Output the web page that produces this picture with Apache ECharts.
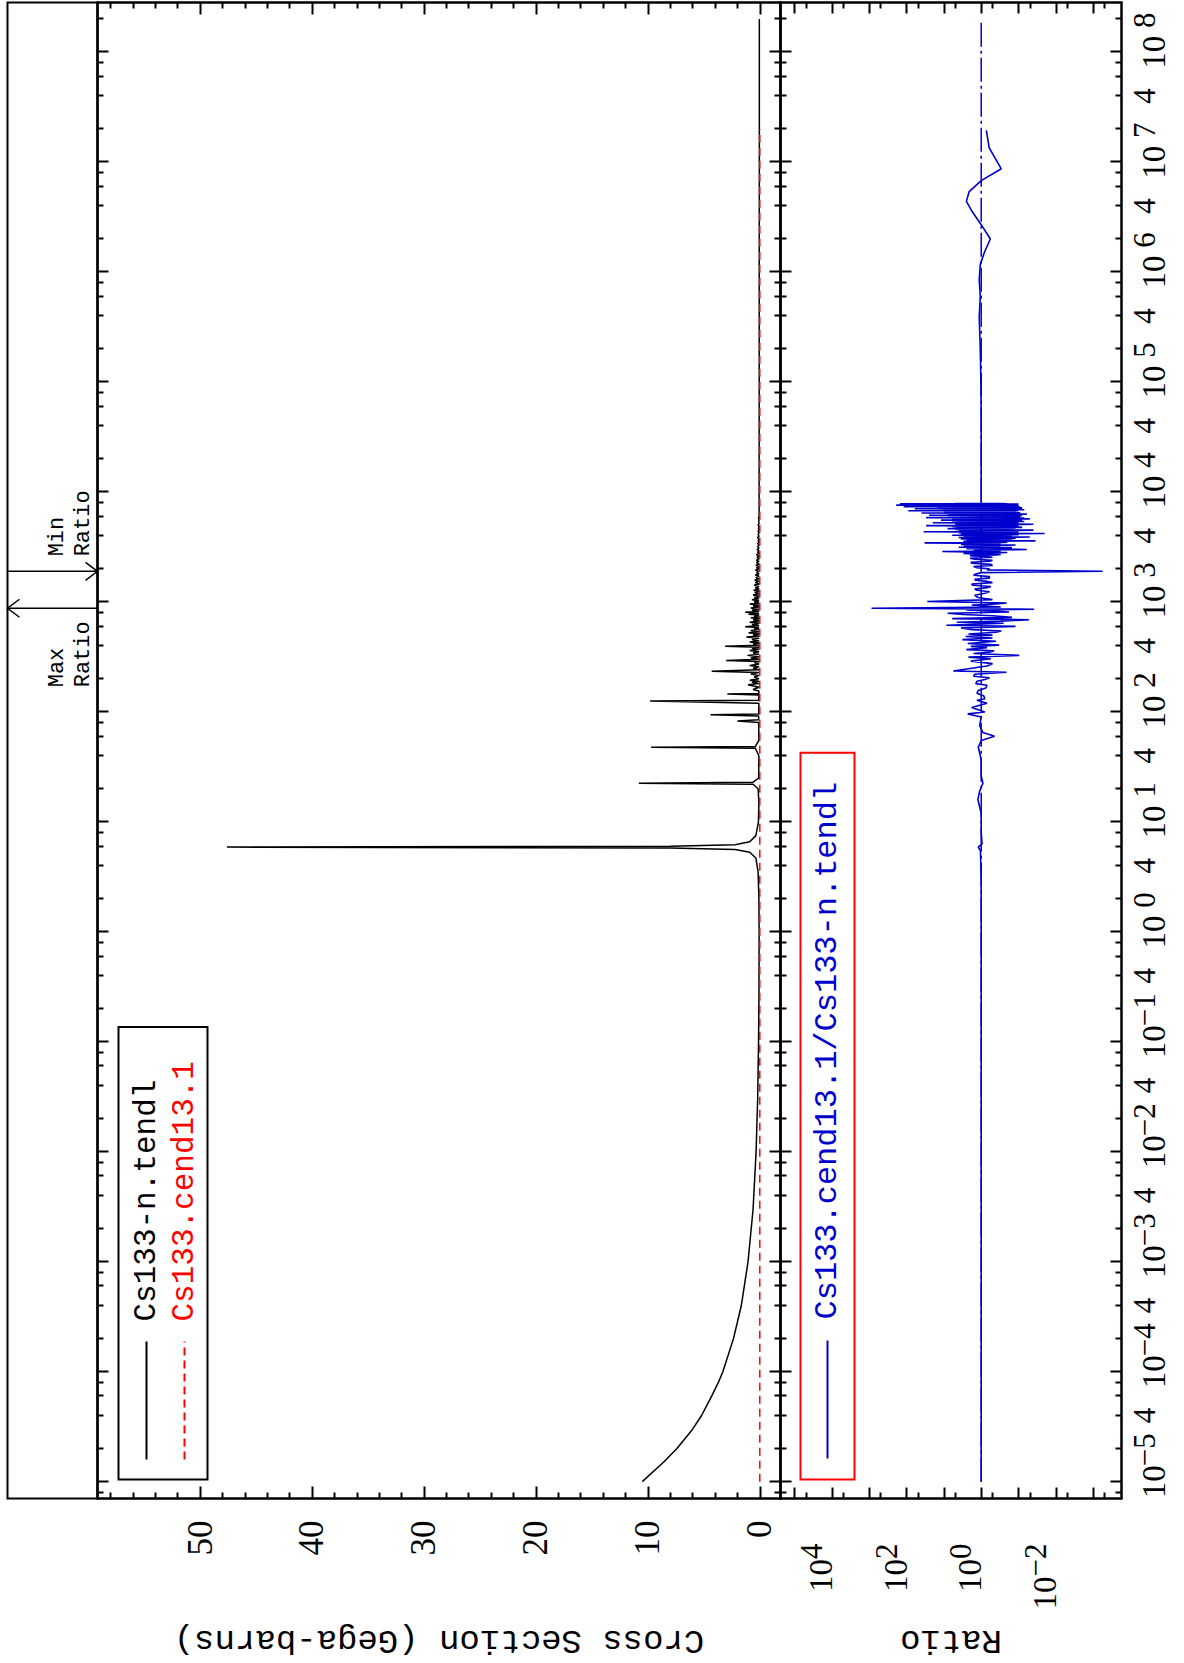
<!DOCTYPE html>
<html>
<head>
<meta charset="utf-8">
<script src="https://cdn.jsdelivr.net/npm/echarts@6/dist/echarts.min.js"></script>
<style>
html,body{margin:0;padding:0;background:#fff;width:1184px;height:1663px;overflow:hidden;position:relative}
#chart{position:absolute;left:-239.5px;top:239.5px;width:1663px;height:1184px;transform:rotate(-90deg);transform-origin:50% 50%;background:#fff}
</style>
</head>
<body>
<div id="chart"></div>
<script>
// ================= DATA =================
// Energy in eV, cross section in Gega-barns, ratio dimensionless.

// Cs133-n.tendl : thermal / 1-v part
const tendlThermalE  = [1e-5, 1.5e-5, 2e-5, 3e-5, 4e-5, 6e-5, 8e-5, 1e-4, 2e-4, 4e-4, 1e-3, 3e-3, 1e-2, 3e-2, 0.1, 0.3, 1, 2, 3.5];
const tendlThermalXS = [10.5, 8.6, 7.4, 6.0, 5.2, 4.3, 3.7, 3.3, 2.35, 1.65, 1.05, 0.6, 0.33, 0.19, 0.11, 0.07, 0.06, 0.08, 0.15];

// Cs133-n.tendl : large resolved resonances (5.9, 22.5, 47.7, 82.7, 94.2, 126, 145 eV)
const tendlResE  = [4.7, 5.3, 5.6, 5.8, 5.9, 6.0, 6.2, 6.6, 7.5, 10, 15, 20, 22.0, 22.5, 23.0, 25, 40, 46.8, 47.7, 48.6, 55, 80, 82.7, 85, 92, 94.2, 96, 120, 126, 128, 143, 145.4, 147.5];
const tendlResXS = [0.35, 0.9, 2.2, 8, 47.6, 8, 2.2, 0.9, 0.35, 0.12, 0.08, 0.15, 0.6, 10.8, 0.6, 0.1, 0.08, 0.4, 9.7, 0.4, 0.08, 0.1, 2.0, 0.1, 0.1, 4.4, 0.1, 0.08, 9.8, 0.1, 0.08, 2.9, 0.08];

// Cs133-n.tendl : small resonance peaks 150 eV - 6 keV
const tendlPeakE  = [160, 177, 186, 194, 208, 221, 234, 250, 265, 281, 293, 310, 327, 343, 363, 380, 395, 415, 433, 455, 480, 500, 525, 550, 575, 596, 625, 655, 690, 720, 745, 773, 805, 840, 880, 920, 960, 1000, 1050, 1100, 1160, 1220, 1280, 1350, 1420, 1500, 1580, 1670, 1760, 1850, 1950, 2050, 2160, 2280, 2400, 2550, 2700, 2850, 3000, 3200, 3400, 3600, 3850, 4100, 4400, 4700, 5000, 5400, 5800];
const tendlPeakXS = [0.6, 1.05, 0.7, 0.9, 0.5, 0.8, 4.3, 0.6, 0.9, 0.5, 3.0, 0.8, 1.1, 0.6, 0.9, 0.7, 3.1, 0.6, 0.9, 0.7, 1.2, 0.6, 1.0, 0.8, 0.5, 1.3, 0.7, 0.9, 0.6, 0.8, 0.5, 1.0, 1.3, 0.7, 0.8, 0.6, 0.9, 0.5, 0.7, 0.5, 0.6, 0.45, 0.55, 0.4, 0.5, 0.4, 0.45, 0.35, 0.4, 0.3, 0.4, 0.3, 0.35, 0.3, 0.3, 0.25, 0.3, 0.2, 0.25, 0.2, 0.2, 0.15, 0.2, 0.15, 0.15, 0.12, 0.15, 0.1, 0.12];
// Cs133-n.tendl : valleys between those peaks
const tendlGapE  = [155, 168, 181, 190, 200, 214, 228, 242, 258, 273, 287, 301, 318, 335, 353, 372, 388, 405, 424, 444, 467, 490, 512, 537, 562, 585, 610, 640, 672, 705, 732, 760, 790, 822, 860, 900, 940, 980, 1025, 1075, 1130, 1190, 1250, 1315, 1385, 1460, 1540, 1625, 1715, 1805, 1900, 2000, 2100, 2220, 2340, 2475, 2625, 2775, 2925, 3100, 3300, 3500, 3725, 3975, 4250, 4550, 4850, 5200, 5600, 6000];
const tendlGapXS = [0.08, 0.08, 0.08, 0.07, 0.07, 0.07, 0.07, 0.07, 0.07, 0.07, 0.07, 0.07, 0.07, 0.06, 0.06, 0.06, 0.06, 0.06, 0.06, 0.06, 0.06, 0.06, 0.06, 0.06, 0.06, 0.06, 0.06, 0.06, 0.06, 0.06, 0.06, 0.06, 0.06, 0.06, 0.06, 0.06, 0.06, 0.06, 0.06, 0.06, 0.06, 0.06, 0.06, 0.06, 0.06, 0.06, 0.06, 0.06, 0.06, 0.06, 0.06, 0.06, 0.06, 0.06, 0.06, 0.06, 0.06, 0.06, 0.06, 0.06, 0.06, 0.06, 0.06, 0.06, 0.06, 0.06, 0.06, 0.06, 0.06, 0.06];

// Cs133-n.tendl : fast region
const tendlFastE  = [6500, 1e4, 1e5, 1e6, 1e7, 2e8];
const tendlFastXS = [0.06, 0.06, 0.05, 0.05, 0.04, 0.04];

// Cs133.cend13.1 (essentially zero on this scale)
const cendE  = [1e-5, 1e-2, 1, 1e3, 1e5, 2e7];
const cendXS = [0.00002, 0.000002, 0.0000004, 0.0000001, 0.00000005, 0.00000003];

// Ratio Cs133.cend13.1 / Cs133-n.tendl
const ratioLowE = [1e-5, 1e-3, 0.1, 1, 3, 5.5, 5.9, 6.3, 8, 12, 16, 19, 22.5, 26, 37, 47.7, 55, 60, 65, 75, 90, 96, 100, 110, 120, 128, 132, 157, 175, 181, 205, 211, 230, 236, 275, 327, 360, 369, 405, 419, 500, 512, 545, 561, 600, 614, 690, 706, 750, 790, 811, 860, 877, 900, 980, 1010, 1100, 1200, 1277, 1350, 1420, 1500, 1575, 1650, 1750, 1850, 1901, 1960, 2050, 2150, 2250, 2350, 2450, 2550];
const ratioLowR = [1, 1, 1, 1, 1, 1.05, 1.2, 0.95, 1, 1, 1.23, 1.1, 0.9, 1, 1, 1.2, 1, 0.44, 0.9, 1.1, 1, 2.3, 0.8, 1.8, 0.7, 1.3, 0.8, 1.2, 0.7, 1.4, 0.6, 1.6, 0.21, 5.6, 0.5, 0.096, 0.45, 2.5, 0.33, 2.3, 0.5, 2.2, 0.29, 1.7, 0.12, 8.6, 0.052, 6, 0.5, 8, 0.18, 0.038, 870, 0.3, 0.21, 28, 1.2, 0.8, 1.3, 0.7, 1.7, 0.5, 1.4, 0.6, 1.6, 1, 0.00056, 0.7, 1.3, 0.5, 1.8, 0.6, 1.5, 0.5];
const ratioMidE = [140, 148, 165, 190, 197, 220, 250, 262, 290, 305, 315, 340, 350, 385, 395, 440, 455, 470, 485, 530, 580, 640, 655, 670, 725, 770, 830, 845, 940, 960, 1050, 1150, 1240, 1310, 1385, 1460, 1540, 1610, 1700, 1800, 2000, 2100, 2200, 2300, 2400, 2500, 2575];
const ratioMidR = [0.85, 1.3, 0.75, 1.3, 0.8, 1.5, 1.8, 0.7, 1.9, 0.55, 2.2, 1.6, 0.6, 0.7, 1.9, 0.4, 3.2, 0.5, 2.6, 0.4, 3.5, 0.25, 4.5, 0.3, 0.15, 3, 0.5, 2.5, 1.8, 0.4, 0.5, 1.5, 0.6, 1.5, 0.55, 1.8, 0.7, 1.5, 0.6, 1.4, 0.6, 1.6, 0.55, 1.9, 0.5, 2.0, 0.7];
const ratioBlobE = [2600, 2650, 2700, 2760, 2820, 2880, 2940, 3000, 3060, 3120, 3150, 3200, 3260, 3300, 3360, 3450, 3500, 3560, 3600, 3660, 3720, 3750, 3800, 3860, 3900, 3960, 4050, 4100, 4150, 4200, 4260, 4350, 4400, 4450, 4500, 4560, 4650, 4700, 4750, 4800, 4870, 4950, 5000, 5050, 5100, 5180, 5250, 5320, 5400, 5470, 5550, 5620, 5700, 5780, 5850, 5920, 6000, 6080, 6150, 6230, 6300, 6380, 6450, 6520, 6600, 6680, 6750, 6830, 6900, 6980, 7050, 7130, 7200, 7280, 7350, 7420, 7480, 7550, 7600, 7650, 7700, 7760, 7800, 7850, 7900];
const ratioBlobR = [0.6, 2.0, 0.3, 3, 0.2, 11, 0.3, 0.06, 2.5, 0.15, 4, 0.3, 3, 0.12, 2, 33, 0.2, 3, 0.035, 2.5, 0.15, 3.5, 0.2, 4, 0.05, 3, 6, 0.1, 3, 0.02, 4, 35, 0.15, 3, 0.04, 5, 8, 0.12, 4, 0.1, 6, 30, 0.1, 5, 0.04, 4, 20, 0.1, 0.07, 6, 12, 0.1, 0.05, 5, 30, 0.12, 0.09, 8, 25, 0.1, 0.06, 6, 40, 0.15, 0.12, 10, 90, 0.1, 0.07, 12, 60, 0.12, 0.08, 15, 120, 0.15, 0.10, 20, 190, 0.2, 0.15, 30, 150, 0.3, 1.0];
const ratioCoreE = [2625, 2675, 2730, 2790, 2850, 2910, 2970, 3030, 3090, 3135, 3175, 3230, 3280, 3330, 3405, 3475, 3530, 3580, 3630, 3690, 3735, 3775, 3830, 3880, 3930, 4005, 4075, 4125, 4175, 4230, 4305, 4375, 4425, 4475, 4530, 4605, 4675, 4725, 4775, 4835, 4910, 4975, 5025, 5075, 5140, 5215, 5285, 5360, 5435, 5510, 5585, 5660, 5740, 5815, 5885, 5960, 6040, 6115, 6190, 6265, 6340, 6415, 6485, 6560, 6640, 6715, 6790, 6865, 6940, 7015, 7090, 7165, 7240, 7315, 7385, 7450, 7515, 7575, 7625, 7675, 7730, 7780, 7825, 7875];
const ratioCoreR = [1.8, 0.4, 1.5, 0.5, 2.2, 0.3, 1.6, 0.25, 1.2, 0.3, 0.35, 2.5, 0.2, 3.5, 0.3, 0.25, 2.8, 0.3, 2.5, 0.15, 2, 0.12, 3, 0.2, 2.5, 0.15, 0.3, 3.5, 0.12, 2.5, 0.1, 0.2, 4, 0.1, 3, 0.12, 0.2, 5, 0.08, 4, 0.15, 0.1, 4, 0.08, 5, 0.15, 0.1, 6, 4, 0.12, 0.08, 5, 6, 0.07, 0.1, 7, 0.15, 0.08, 0.12, 8, 5, 0.1, 0.09, 6, 9, 0.12, 0.1, 8, 12, 0.08, 0.1, 9, 14, 0.09, 0.12, 10, 16, 0.1, 0.12, 25, 18, 0.1, 0.2, 5];
const ratioFastE = [2e4, 5e4, 1e5, 2.0e5, 3.9e5, 6.1e5, 8.5e5, 1.17e6, 1.5e6, 2.0e6, 2.7e6, 3.5e6, 4.4e6, 5.4e6, 6.8e6, 8.7e6, 1.35e7, 1.95e7];
const ratioFastR = [1.0, 1.0, 1.02, 1.06, 1.13, 1.06, 1.13, 1.06, 0.83, 0.57, 1.0, 1.7, 2.5, 2.1, 1.0, 0.29, 0.61, 0.73];
// reference line ratio = 1
const ratioRefE = [1e-5, 2e8];
const ratioRefR = [1, 1];

// energies of the Max / Min ratio markers
const maxRatioE = 877;
const minRatioE = 1901;

// axis ranges and tick labels
const ENERGY_EXP_MIN = -5.153, ENERGY_EXP_MAX = 8.452;   // log10(eV)
const XS_MIN = -1.85, XS_MAX = 59.16;                    // Gega-barns
const RATIO_EXP_MIN = -3.76, RATIO_EXP_MAX = 5.38;       // log10(ratio)
const energyDecadeExps = [-5, -4, -3, -2, -1, 0, 1, 2, 3, 4, 5, 6, 7, 8];
const energyMinorMantissas = [2, 4, 6, 8];
const energyLabelMantissa = 4;
const xsLabelValues = [0, 10, 20, 30, 40, 50];
const xsMinorStep = 2;
const ratioDecadeExps = [-3, -2, -1, 0, 1, 2, 3, 4, 5];
const ratioLabelExps = [4, 2, 0, -2];
const ratioMinorMantissa = 5;

const legendNames = ['Cs133-n.tendl', 'Cs133.cend13.1', 'Cs133.cend13.1/Cs133-n.tendl'];
const yTitleXS = 'Cross Section (Gega-barns)';
const yTitleRatio = 'Ratio';

// ================= BUILD =================
const lg = Math.log10;
function xsPairs(E, Y) { return E.map((e, i) => [lg(e), Y[i]]); }
function ratioPairs(E, R) { return E.map((e, i) => [lg(e), lg(R[i])]); }
const byX = (a, b) => a[0] - b[0];

const tendlSmall = xsPairs(tendlPeakE, tendlPeakXS).concat(xsPairs(tendlGapE, tendlGapXS)).sort(byX);
const tendlData = xsPairs(tendlThermalE, tendlThermalXS).concat(xsPairs(tendlResE, tendlResXS), tendlSmall, xsPairs(tendlFastE, tendlFastXS));
const cendData = xsPairs(cendE, cendXS);
const ratioData = ratioPairs(ratioLowE, ratioLowR)
  .concat(ratioPairs(ratioMidE, ratioMidR), ratioPairs(ratioBlobE, ratioBlobR), ratioPairs(ratioCoreE, ratioCoreR), ratioPairs(ratioFastE, ratioFastR))
  .sort(byX);
const ratioRefData = ratioPairs(ratioRefE, ratioRefR);

// tick positions (log space for energy and ratio)
const eMajor = energyDecadeExps.slice();
const eMinor = [];
for (let n = -6; n <= 8; n++) energyMinorMantissas.forEach(m => { const v = lg(m) + n; if (v > ENERGY_EXP_MIN && v < ENERGY_EXP_MAX) eMinor.push(v); });
const eLabels = energyDecadeExps.slice();
for (let n = -6; n <= 8; n++) { const v = lg(energyLabelMantissa) + n; if (v > ENERGY_EXP_MIN && v < ENERGY_EXP_MAX) eLabels.push(v); }
const xsMajor = xsLabelValues.slice();
const xsMinor = [];
for (let v = xsMinorStep; v < XS_MAX; v += xsMinorStep) if (v % 10 !== 0) xsMinor.push(v);
const rMajor = ratioDecadeExps.slice();
const rMinor = [];
for (let n = -5; n <= 5; n++) { const v = lg(ratioMinorMantissa) + n; if (v > RATIO_EXP_MIN && v < RATIO_EXP_MAX) rMinor.push(v); }
const rLabels = ratioLabelExps.slice();

function expText(n) { return n < 0 ? '\u2212' + (-n) : String(n); }
function isInt(v) { return Math.abs(v - Math.round(v)) < 1e-6; }

const SERIF = '"Liberation Serif", "DejaVu Serif", serif';
const MONO = '"Liberation Mono", "DejaVu Sans Mono", monospace';
const richPow = {
  p: { width: 31, fontSize: 10 },
  b: { fontFamily: SERIF, fontSize: 33, lineHeight: 33, padding: [17, 0, 0, 0], color: '#000' },
  s: { fontFamily: SERIF, fontSize: 31, lineHeight: 31, verticalAlign: 'top', color: '#000' },
  w: { fontFamily: SERIF, fontSize: 31, lineHeight: 31, verticalAlign: 'top', width: 31, align: 'left', color: '#000' }
};

const LINE = { show: true, onZero: false, lineStyle: { color: '#000', width: 2 } };
function axis(base, ticks, len, extra) {
  return Object.assign({
    axisLine: LINE,
    axisTick: { show: true, inside: true, length: len, customValues: ticks, lineStyle: { color: '#000', width: 2 } },
    axisLabel: { show: false },
    splitLine: { show: false },
    splitArea: { show: false },
    minorTick: { show: false },
    minorSplitLine: { show: false }
  }, base, extra || {});
}
const eBase = (g, pos) => ({ type: 'value', gridIndex: g, position: pos, min: ENERGY_EXP_MIN, max: ENERGY_EXP_MAX });
const xsBase = (pos) => ({ type: 'value', gridIndex: 1, position: pos, min: XS_MIN, max: XS_MAX });
const rBase = (pos) => ({ type: 'value', gridIndex: 2, position: pos, min: RATIO_EXP_MIN, max: RATIO_EXP_MAX });

const xAxes = [
  { type: 'value', gridIndex: 0, min: ENERGY_EXP_MIN, max: ENERGY_EXP_MAX, show: false },
  axis(eBase(1, 'bottom'), eMajor, 11),
  axis(eBase(1, 'bottom'), eMinor, 6),
  axis(eBase(1, 'top'), eMajor, 11),
  axis(eBase(1, 'top'), eMinor, 6),
  axis(eBase(2, 'bottom'), eMajor, 11, {
    axisLabel: {
      show: true, customValues: eLabels, margin: 7, align: 'center',
      formatter: v => isInt(v) ? '{p| }{b|10}{w|' + expText(Math.round(v)) + '}' : '{s|' + energyLabelMantissa + '}',
      rich: richPow
    }
  }),
  axis(eBase(2, 'bottom'), eMinor, 6),
  axis(eBase(2, 'top'), eMajor, 11),
  axis(eBase(2, 'top'), eMinor, 6)
];

const yAxes = [
  { type: 'value', gridIndex: 0, min: 0, max: 1, show: false },
  axis(xsBase('left'), xsMajor, 12, {
    name: yTitleXS, nameLocation: 'middle', nameGap: 124, nameRotate: 90,
    nameTextStyle: { fontFamily: MONO, fontSize: 34, color: '#000' },
    axisLabel: {
      show: true, customValues: xsLabelValues, margin: 22, verticalAlign: 'middle', padding: [0, 0, 23, 0],
      fontFamily: SERIF, fontSize: 35, color: '#000', formatter: v => String(Math.round(v))
    }
  }),
  axis(xsBase('left'), xsMinor, 6),
  axis(xsBase('right'), xsMajor, 12),
  axis(xsBase('right'), xsMinor, 6),
  axis(rBase('left'), rMajor, 11, {
    name: yTitleRatio, nameLocation: 'middle', nameGap: 124, nameRotate: 90,
    nameTextStyle: { fontFamily: MONO, fontSize: 34, color: '#000' },
    axisLabel: {
      show: true, customValues: rLabels, margin: 45, verticalAlign: 'middle', padding: [0, 0, 39, 0],
      formatter: v => '{b|10}{s|' + expText(Math.round(v)) + '}', rich: richPow
    }
  }),
  axis(rBase('left'), rMinor, 6),
  axis(rBase('right'), rMajor, 11),
  axis(rBase('right'), rMinor, 6)
];

const markerData = [[lg(maxRatioE), 1], [lg(minRatioE), 0]];

const legendCommon = {
  orient: 'vertical', left: 184, itemGap: 6, itemWidth: 118, itemHeight: 14,
  borderWidth: 2, borderRadius: 0, selectedMode: false, backgroundColor: 'transparent',
  itemStyle: { opacity: 0, borderWidth: 0 },
  lineStyle: { opacity: 1 }
};

const option = {
  animation: false,
  backgroundColor: '#fff',
  grid: [
    { left: 165, top: 7, width: 1496, height: 90, show: true, borderColor: '#000', borderWidth: 2, backgroundColor: 'transparent', containLabel: false, outerBoundsMode: 'none' },
    { left: 165, top: 97, width: 1496, height: 683, containLabel: false, outerBoundsMode: 'none' },
    { left: 165, top: 780, width: 1496, height: 341, containLabel: false, outerBoundsMode: 'none' }
  ],
  xAxis: xAxes,
  yAxis: yAxes,
  legend: [
    Object.assign({}, legendCommon, {
      top: 118, padding: [12, 34, 7, 19], borderColor: '#000',
      textStyle: { fontFamily: MONO, fontSize: 31, lineHeight: 32, padding: [0, 0, 0, 15] },
      data: [{ name: legendNames[0], textStyle: { color: '#000' } }, { name: legendNames[1], textStyle: { color: '#ff0000' } }]
    }),
    Object.assign({}, legendCommon, {
      top: 800, padding: [11, 29, 11, 20], borderColor: '#ff0000',
      textStyle: { fontFamily: MONO, fontSize: 32, lineHeight: 32, padding: [0, 0, 0, 16] },
      data: [{ name: legendNames[2], textStyle: { color: '#0000cd' } }]
    })
  ],
  series: [
    {
      name: legendNames[0], type: 'line', xAxisIndex: 1, yAxisIndex: 1, data: tendlData,
      symbol: 'none', showSymbol: false, clip: true, z: 3,
      lineStyle: { color: '#000', width: 1.5 }, itemStyle: { color: '#000' }
    },
    {
      name: legendNames[1], type: 'line', xAxisIndex: 1, yAxisIndex: 1, data: cendData,
      symbol: 'none', showSymbol: false, clip: true, z: 4,
      lineStyle: { color: '#ff0000', width: 1.5, type: [8, 5] }, itemStyle: { color: '#ff0000' }
    },
    {
      name: 'ratio = 1', type: 'line', xAxisIndex: 5, yAxisIndex: 5, data: ratioRefData,
      symbol: 'none', showSymbol: false, clip: true, z: 2,
      lineStyle: { color: '#0000cd', width: 1.5, type: [24, 4, 3, 4] }, itemStyle: { color: '#0000cd' }
    },
    {
      name: legendNames[2], type: 'line', xAxisIndex: 5, yAxisIndex: 5, data: ratioData,
      symbol: 'none', showSymbol: false, clip: true, z: 3,
      lineStyle: { color: '#0000cd', width: 1.6 }, itemStyle: { color: '#0000cd' }
    },
    {
      type: 'custom', xAxisIndex: 0, yAxisIndex: 0, data: markerData, clip: false, z: 5,
      renderItem: function (params, api) {
        const x = api.coord([api.value(0), 0.5])[0];
        const cs = params.coordSys;
        const top = cs.y, bot = cs.y + cs.height;
        const isMax = api.value(1) === 1;
        const head = isMax ? [[x - 9, top + 12], [x, top], [x + 9, top + 12]]
                           : [[x - 9, bot - 12], [x, bot], [x + 9, bot - 12]];
        const tx = isMax ? x - 79 : x + 15;
        return {
          type: 'group',
          children: [
            { type: 'line', shape: { x1: x, y1: top, x2: x, y2: bot }, style: { stroke: '#000', lineWidth: 1.5 } },
            { type: 'polyline', shape: { points: head }, style: { stroke: '#000', fill: null, lineWidth: 1.5 } },
            { type: 'text', style: { text: (isMax ? 'Max' : 'Min') + '\nRatio', x: tx, y: top + 37, fontFamily: MONO, fontSize: 22, lineHeight: 26, fill: '#000', align: 'left', verticalAlign: 'top' } }
          ]
        };
      }
    }
  ]
};

const chart = echarts.init(document.getElementById('chart'), null, { renderer: 'svg', width: 1663, height: 1184 });
chart.setOption(option);
</script>
</body>
</html>
